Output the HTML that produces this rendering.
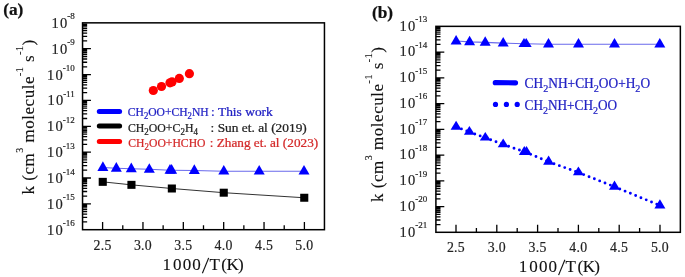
<!DOCTYPE html>
<html><head><meta charset="utf-8"><style>html,body{margin:0;padding:0;background:#fff;overflow:hidden}svg{display:block;will-change:transform}text{stroke-width:0.24px}text.t{stroke-width:0.12px}text.k{stroke-width:0.18px}</style></head><body>
<svg width="685" height="277" viewBox="0 0 685 277" font-family='"Liberation Serif", serif'>
<rect width="685" height="277" fill="#fff"/>
<rect x="82.55" y="22.85" width="241.89999999999998" height="206.85" fill="none" stroke="#000" stroke-width="1.5"/>
<path d="M82.55 40.92H87.15M82.55 36.37H87.15M82.55 33.14H87.15M82.55 30.63H87.15M82.55 28.59H87.15M82.55 26.86H87.15M82.55 25.36H87.15M82.55 24.03H87.15M82.55 66.78H87.15M82.55 62.23H87.15M82.55 59.00H87.15M82.55 56.49H87.15M82.55 54.44H87.15M82.55 52.71H87.15M82.55 51.21H87.15M82.55 49.89H87.15M82.55 48.71H90.95M82.55 92.64H87.15M82.55 88.08H87.15M82.55 84.85H87.15M82.55 82.35H87.15M82.55 80.30H87.15M82.55 78.57H87.15M82.55 77.07H87.15M82.55 75.75H87.15M82.55 74.56H90.95M82.55 118.49H87.15M82.55 113.94H87.15M82.55 110.71H87.15M82.55 108.20H87.15M82.55 106.15H87.15M82.55 104.42H87.15M82.55 102.92H87.15M82.55 101.60H87.15M82.55 100.42H90.95M82.55 144.35H87.15M82.55 139.79H87.15M82.55 136.56H87.15M82.55 134.06H87.15M82.55 132.01H87.15M82.55 130.28H87.15M82.55 128.78H87.15M82.55 127.46H87.15M82.55 126.28H90.95M82.55 170.20H87.15M82.55 165.65H87.15M82.55 162.42H87.15M82.55 159.91H87.15M82.55 157.87H87.15M82.55 156.14H87.15M82.55 154.64H87.15M82.55 153.31H87.15M82.55 152.13H90.95M82.55 196.06H87.15M82.55 191.51H87.15M82.55 188.28H87.15M82.55 185.77H87.15M82.55 183.72H87.15M82.55 181.99H87.15M82.55 180.49H87.15M82.55 179.17H87.15M82.55 177.99H90.95M82.55 221.92H87.15M82.55 217.36H87.15M82.55 214.13H87.15M82.55 211.63H87.15M82.55 209.58H87.15M82.55 207.85H87.15M82.55 206.35H87.15M82.55 205.03H87.15M82.55 203.84H90.95" stroke="#000" stroke-width="1.3" fill="none"/>
<path d="M102.60 229.70V222.10M122.78 229.70V225.30M142.96 229.70V222.10M163.14 229.70V225.30M183.32 229.70V222.10M203.50 229.70V225.30M223.68 229.70V222.10M243.86 229.70V225.30M264.04 229.70V222.10M284.22 229.70V225.30M304.40 229.70V222.10" stroke="#000" stroke-width="1.3" fill="none"/>
<text x="74.8" y="27.85" text-anchor="end" font-size="14.5" fill="#222" stroke="#222" class="k">1<tspan dx="1.2">0</tspan><tspan font-size="9" dy="-8.4">-8</tspan></text>
<text x="74.8" y="53.71" text-anchor="end" font-size="14.5" fill="#222" stroke="#222" class="k">1<tspan dx="1.2">0</tspan><tspan font-size="9" dy="-8.4">-9</tspan></text>
<text x="74.8" y="79.56" text-anchor="end" font-size="14.5" fill="#222" stroke="#222" class="k">1<tspan dx="1.2">0</tspan><tspan font-size="9" dy="-8.4">-10</tspan></text>
<text x="74.8" y="105.42" text-anchor="end" font-size="14.5" fill="#222" stroke="#222" class="k">1<tspan dx="1.2">0</tspan><tspan font-size="9" dy="-8.4">-11</tspan></text>
<text x="74.8" y="131.28" text-anchor="end" font-size="14.5" fill="#222" stroke="#222" class="k">1<tspan dx="1.2">0</tspan><tspan font-size="9" dy="-8.4">-12</tspan></text>
<text x="74.8" y="157.13" text-anchor="end" font-size="14.5" fill="#222" stroke="#222" class="k">1<tspan dx="1.2">0</tspan><tspan font-size="9" dy="-8.4">-13</tspan></text>
<text x="74.8" y="182.99" text-anchor="end" font-size="14.5" fill="#222" stroke="#222" class="k">1<tspan dx="1.2">0</tspan><tspan font-size="9" dy="-8.4">-14</tspan></text>
<text x="74.8" y="208.84" text-anchor="end" font-size="14.5" fill="#222" stroke="#222" class="k">1<tspan dx="1.2">0</tspan><tspan font-size="9" dy="-8.4">-15</tspan></text>
<text x="74.8" y="234.70" text-anchor="end" font-size="14.5" fill="#222" stroke="#222" class="k">1<tspan dx="1.2">0</tspan><tspan font-size="9" dy="-8.4">-16</tspan></text>
<text x="102.60" y="249.6" text-anchor="middle" font-size="13.8" fill="#222" stroke="#222" class="k" letter-spacing="0.3">2.5</text>
<text x="142.96" y="249.6" text-anchor="middle" font-size="13.8" fill="#222" stroke="#222" class="k" letter-spacing="0.3">3.0</text>
<text x="183.32" y="249.6" text-anchor="middle" font-size="13.8" fill="#222" stroke="#222" class="k" letter-spacing="0.3">3.5</text>
<text x="223.68" y="249.6" text-anchor="middle" font-size="13.8" fill="#222" stroke="#222" class="k" letter-spacing="0.3">4.0</text>
<text x="264.04" y="249.6" text-anchor="middle" font-size="13.8" fill="#222" stroke="#222" class="k" letter-spacing="0.3">4.5</text>
<text x="304.40" y="249.6" text-anchor="middle" font-size="13.8" fill="#222" stroke="#222" class="k" letter-spacing="0.3">5.0</text>
<text x="162.50 173.00 182.75 192.20 209.40 221.25 226.60 238.00" y="270.1" font-size="17" fill="#111" stroke="#111" class="t">1000T(K)</text>
<line x1="202.40" y1="273.30" x2="208.70" y2="257.90" stroke="#111" stroke-width="1.15"/>
<text transform="translate(33.6,194.4) rotate(-90)" x="0" y="0" font-size="17" fill="#111" stroke="#111" textLength="154.60000000000002" lengthAdjust="spacing" class="t">k (cm<tspan font-size="10" dy="-10.3">3</tspan><tspan dy="10.3"> molecule</tspan><tspan font-size="10" dy="-10.3">-1</tspan><tspan dy="10.3"> s</tspan><tspan font-size="10" dy="-10.3">-1</tspan><tspan dy="10.3">)</tspan></text>
<text x="3.2" y="14.8" font-size="17.3" font-weight="bold" fill="#111" stroke="#111">(a)</text>
<rect x="435.9" y="26.35" width="244.45000000000005" height="205.95000000000002" fill="none" stroke="#000" stroke-width="1.5"/>
<path d="M435.90 44.34H440.50M435.90 39.81H440.50M435.90 36.59H440.50M435.90 34.10H440.50M435.90 32.06H440.50M435.90 30.34H440.50M435.90 28.84H440.50M435.90 27.53H440.50M435.90 70.09H440.50M435.90 65.55H440.50M435.90 62.34H440.50M435.90 59.84H440.50M435.90 57.80H440.50M435.90 56.08H440.50M435.90 54.59H440.50M435.90 53.27H440.50M435.90 52.09H444.30M435.90 95.83H440.50M435.90 91.30H440.50M435.90 88.08H440.50M435.90 85.59H440.50M435.90 83.55H440.50M435.90 81.83H440.50M435.90 80.33H440.50M435.90 79.02H440.50M435.90 77.84H444.30M435.90 121.58H440.50M435.90 117.04H440.50M435.90 113.83H440.50M435.90 111.33H440.50M435.90 109.29H440.50M435.90 107.57H440.50M435.90 106.08H440.50M435.90 104.76H440.50M435.90 103.58H444.30M435.90 147.32H440.50M435.90 142.79H440.50M435.90 139.57H440.50M435.90 137.07H440.50M435.90 135.04H440.50M435.90 133.31H440.50M435.90 131.82H440.50M435.90 130.50H440.50M435.90 129.33H444.30M435.90 173.06H440.50M435.90 168.53H440.50M435.90 165.31H440.50M435.90 162.82H440.50M435.90 160.78H440.50M435.90 159.06H440.50M435.90 157.56H440.50M435.90 156.25H440.50M435.90 155.07H444.30M435.90 198.81H440.50M435.90 194.27H440.50M435.90 191.06H440.50M435.90 188.56H440.50M435.90 186.52H440.50M435.90 184.80H440.50M435.90 183.31H440.50M435.90 181.99H440.50M435.90 180.81H444.30M435.90 224.55H440.50M435.90 220.02H440.50M435.90 216.80H440.50M435.90 214.31H440.50M435.90 212.27H440.50M435.90 210.54H440.50M435.90 209.05H440.50M435.90 207.73H440.50M435.90 206.56H444.30" stroke="#000" stroke-width="1.3" fill="none"/>
<path d="M456.00 232.30V224.70M476.40 232.30V227.90M496.80 232.30V224.70M517.20 232.30V227.90M537.60 232.30V224.70M558.00 232.30V227.90M578.40 232.30V224.70M598.80 232.30V227.90M619.20 232.30V224.70M639.60 232.30V227.90M660.00 232.30V224.70" stroke="#000" stroke-width="1.3" fill="none"/>
<text x="427.3" y="30.70" text-anchor="end" font-size="14.5" fill="#222" stroke="#222" class="k">1<tspan dx="1.2">0</tspan><tspan font-size="9" dy="-8.6">-13</tspan></text>
<text x="427.3" y="56.44" text-anchor="end" font-size="14.5" fill="#222" stroke="#222" class="k">1<tspan dx="1.2">0</tspan><tspan font-size="9" dy="-8.6">-14</tspan></text>
<text x="427.3" y="82.19" text-anchor="end" font-size="14.5" fill="#222" stroke="#222" class="k">1<tspan dx="1.2">0</tspan><tspan font-size="9" dy="-8.6">-15</tspan></text>
<text x="427.3" y="107.93" text-anchor="end" font-size="14.5" fill="#222" stroke="#222" class="k">1<tspan dx="1.2">0</tspan><tspan font-size="9" dy="-8.6">-16</tspan></text>
<text x="427.3" y="133.68" text-anchor="end" font-size="14.5" fill="#222" stroke="#222" class="k">1<tspan dx="1.2">0</tspan><tspan font-size="9" dy="-8.6">-17</tspan></text>
<text x="427.3" y="159.42" text-anchor="end" font-size="14.5" fill="#222" stroke="#222" class="k">1<tspan dx="1.2">0</tspan><tspan font-size="9" dy="-8.6">-18</tspan></text>
<text x="427.3" y="185.16" text-anchor="end" font-size="14.5" fill="#222" stroke="#222" class="k">1<tspan dx="1.2">0</tspan><tspan font-size="9" dy="-8.6">-19</tspan></text>
<text x="427.3" y="210.91" text-anchor="end" font-size="14.5" fill="#222" stroke="#222" class="k">1<tspan dx="1.2">0</tspan><tspan font-size="9" dy="-8.6">-20</tspan></text>
<text x="427.3" y="236.65" text-anchor="end" font-size="14.5" fill="#222" stroke="#222" class="k">1<tspan dx="1.2">0</tspan><tspan font-size="9" dy="-8.6">-21</tspan></text>
<text x="456.00" y="252.0" text-anchor="middle" font-size="13.8" fill="#222" stroke="#222" class="k" letter-spacing="0.3">2.5</text>
<text x="496.80" y="252.0" text-anchor="middle" font-size="13.8" fill="#222" stroke="#222" class="k" letter-spacing="0.3">3.0</text>
<text x="537.60" y="252.0" text-anchor="middle" font-size="13.8" fill="#222" stroke="#222" class="k" letter-spacing="0.3">3.5</text>
<text x="578.40" y="252.0" text-anchor="middle" font-size="13.8" fill="#222" stroke="#222" class="k" letter-spacing="0.3">4.0</text>
<text x="619.20" y="252.0" text-anchor="middle" font-size="13.8" fill="#222" stroke="#222" class="k" letter-spacing="0.3">4.5</text>
<text x="660.00" y="252.0" text-anchor="middle" font-size="13.8" fill="#222" stroke="#222" class="k" letter-spacing="0.3">5.0</text>
<text x="518.70 529.20 538.95 548.40 565.60 577.45 582.80 594.20" y="271.9" font-size="17" fill="#111" stroke="#111" class="t">1000T(K)</text>
<line x1="558.60" y1="275.10" x2="564.90" y2="259.70" stroke="#111" stroke-width="1.15"/>
<text transform="translate(382.6,202.0) rotate(-90)" x="0" y="0" font-size="17" fill="#111" stroke="#111" textLength="154.9" lengthAdjust="spacing" class="t">k (cm<tspan font-size="10" dy="-10.3">3</tspan><tspan dy="10.3"> molecule</tspan><tspan font-size="10" dy="-10.3">-1</tspan><tspan dy="10.3"> s</tspan><tspan font-size="10" dy="-10.3">-1</tspan><tspan dy="10.3">)</tspan></text>
<text x="372.0" y="18.0" font-size="17.3" font-weight="bold" fill="#111" stroke="#111">(b)</text>
<polyline points="102.90,167.51 116.30,168.24 131.30,168.74 149.30,169.32 170.00,170.31 171.60,170.31 194.30,170.44 223.80,171.18 259.20,171.18 304.00,171.18" fill="none" stroke="#6a6aec" stroke-width="1.1"/>
<polyline points="102.75,181.85 131.45,184.85 171.85,188.5 223.75,192.7 304.25,197.75" fill="none" stroke="#333" stroke-width="1.0"/>
<path d="M102.90 161.30L108.40 171.00L97.40 171.00Z" fill="#0000ff"/>
<path d="M116.30 161.90L121.80 171.80L110.80 171.80Z" fill="#0000ff"/>
<path d="M131.30 162.60L136.80 172.20L125.80 172.20Z" fill="#0000ff"/>
<path d="M149.30 163.30L154.80 172.70L143.80 172.70Z" fill="#0000ff"/>
<path d="M170.00 164.10L175.50 173.80L164.50 173.80Z" fill="#0000ff"/>
<path d="M171.60 164.10L177.10 173.80L166.10 173.80Z" fill="#0000ff"/>
<path d="M194.30 164.30L199.80 173.90L188.80 173.90Z" fill="#0000ff"/>
<path d="M223.80 165.10L229.30 174.60L218.30 174.60Z" fill="#0000ff"/>
<path d="M259.20 165.10L264.70 174.60L253.70 174.60Z" fill="#0000ff"/>
<path d="M304.00 165.10L309.50 174.60L298.50 174.60Z" fill="#0000ff"/>
<rect x="98.70" y="177.85" width="8.1" height="8.0" fill="#000"/>
<rect x="127.40" y="180.85" width="8.1" height="8.0" fill="#000"/>
<rect x="167.80" y="184.50" width="8.1" height="8.0" fill="#000"/>
<rect x="219.70" y="188.70" width="8.1" height="8.0" fill="#000"/>
<rect x="300.20" y="193.75" width="8.1" height="8.0" fill="#000"/>
<circle cx="153.3" cy="90.5" r="4.6" fill="#ff0000"/>
<circle cx="161.5" cy="86.5" r="4.6" fill="#ff0000"/>
<circle cx="170.0" cy="82.8" r="4.6" fill="#ff0000"/>
<circle cx="172.0" cy="81.9" r="4.6" fill="#ff0000"/>
<circle cx="179.3" cy="78.4" r="4.6" fill="#ff0000"/>
<circle cx="189.4" cy="73.7" r="4.6" fill="#ff0000"/>
<g stroke-width="5" stroke-linecap="round">
<line x1="99.3" y1="111.5" x2="119.6" y2="111.5" stroke="#0000ff"/>
<line x1="99.3" y1="125.9" x2="119.6" y2="125.9" stroke="#000"/>
<line x1="99.3" y1="141.5" x2="119.6" y2="141.5" stroke="#ff0000"/>
</g>
<g font-size="12.3">
<text x="127.8" y="115.9" fill="#2222c4" stroke="#2222c4" textLength="80.9" lengthAdjust="spacingAndGlyphs">CH<tspan font-size="9.3" dy="3.2">2</tspan><tspan dy="-3.2">OO+CH</tspan><tspan font-size="9.3" dy="3.2">2</tspan><tspan dy="-3.2">NH</tspan></text>
<text x="211.1" y="115.9" fill="#2222c4" stroke="#2222c4" textLength="61.7" lengthAdjust="spacingAndGlyphs">: This work</text>
<text x="127.9" y="131.5" fill="#222" stroke="#222" textLength="70.0" lengthAdjust="spacingAndGlyphs">CH<tspan font-size="9.3" dy="3.2">2</tspan><tspan dy="-3.2">OO+C</tspan><tspan font-size="9.3" dy="3.2">2</tspan><tspan dy="-3.2">H</tspan><tspan font-size="9.3" dy="3.2">4</tspan></text>
<text x="210.6" y="131.5" fill="#222" stroke="#222" textLength="96.2" lengthAdjust="spacingAndGlyphs">: Sun et. al (2019)</text>
<text x="128.3" y="146.7" fill="#d42a2a" stroke="#d42a2a" textLength="77.2" lengthAdjust="spacingAndGlyphs">CH<tspan font-size="9.3" dy="3.2">2</tspan><tspan dy="-3.2">OO+HCHO</tspan></text>
<text x="209.7" y="146.7" fill="#d42a2a" stroke="#d42a2a" textLength="108.5" lengthAdjust="spacingAndGlyphs">: Zhang et. al (2023)</text>
</g>
<polyline points="456.10,41.05 469.60,41.84 485.20,42.34 503.20,43.12 524.00,43.70 526.20,43.70 548.50,44.18 578.50,44.18 614.50,44.18 659.80,44.18" fill="none" stroke="#6a6aec" stroke-width="1.1"/>
<path d="M456.10 126.85L469.40 131.98M469.40 131.98L485.30 137.75M485.30 137.75L503.20 144.45M503.20 144.45L525.40 152.15M525.40 152.15L548.60 161.76M548.60 161.76L578.40 172.52M578.40 172.52L614.50 186.76M614.50 186.76L659.90 205.52" fill="none" stroke="#0000ff" stroke-width="2.9" stroke-linecap="round" stroke-dasharray="0 5.72"/>
<path d="M456.10 35.10L461.60 44.40L450.60 44.40Z" fill="#0000ff"/>
<path d="M469.60 35.70L475.10 45.30L464.10 45.30Z" fill="#0000ff"/>
<path d="M485.20 36.20L490.70 45.80L479.70 45.80Z" fill="#0000ff"/>
<path d="M503.20 37.10L508.70 46.50L497.70 46.50Z" fill="#0000ff"/>
<path d="M524.00 38.00L529.50 46.90L518.50 46.90Z" fill="#0000ff"/>
<path d="M526.20 38.00L531.70 46.90L520.70 46.90Z" fill="#0000ff"/>
<path d="M548.50 38.10L554.00 47.60L543.00 47.60Z" fill="#0000ff"/>
<path d="M578.50 38.10L584.00 47.60L573.00 47.60Z" fill="#0000ff"/>
<path d="M614.50 38.10L620.00 47.60L609.00 47.60Z" fill="#0000ff"/>
<path d="M659.80 38.10L665.30 47.60L654.30 47.60Z" fill="#0000ff"/>
<path d="M456.10 120.80L461.60 129.70L450.60 129.70Z" fill="#0000ff"/>
<path d="M469.40 126.00L474.90 134.80L463.90 134.80Z" fill="#0000ff"/>
<path d="M485.30 131.90L490.80 140.50L479.80 140.50Z" fill="#0000ff"/>
<path d="M503.20 138.40L508.70 147.30L497.70 147.30Z" fill="#0000ff"/>
<path d="M524.30 146.10L529.80 155.00L518.80 155.00Z" fill="#0000ff"/>
<path d="M526.50 146.10L532.00 155.00L521.00 155.00Z" fill="#0000ff"/>
<path d="M548.60 155.50L554.10 164.70L543.10 164.70Z" fill="#0000ff"/>
<path d="M578.40 166.60L583.90 175.30L572.90 175.30Z" fill="#0000ff"/>
<path d="M614.50 180.50L620.00 189.70L609.00 189.70Z" fill="#0000ff"/>
<path d="M659.90 199.20L665.40 208.50L654.40 208.50Z" fill="#0000ff"/>
<line x1="495.3" y1="82.7" x2="515.5" y2="82.8" stroke="#0000ff" stroke-width="5.2" stroke-linecap="round"/>
<circle cx="495.5" cy="104.4" r="2.6" fill="#0000ff"/>
<circle cx="506.4" cy="104.4" r="2.6" fill="#0000ff"/>
<circle cx="517.2" cy="104.4" r="2.6" fill="#0000ff"/>
<g font-size="14">
<text x="524.6" y="87.9" fill="#2222c4" stroke="#2222c4" textLength="125.5" lengthAdjust="spacingAndGlyphs">CH<tspan font-size="10.6" dy="3.7">2</tspan><tspan dy="-3.7">NH+CH</tspan><tspan font-size="10.6" dy="3.7">2</tspan><tspan dy="-3.7">OO+H</tspan><tspan font-size="10.6" dy="3.7">2</tspan><tspan dy="-3.7">O</tspan></text>
<text x="524.6" y="110.0" fill="#2222c4" stroke="#2222c4" textLength="92.5" lengthAdjust="spacingAndGlyphs">CH<tspan font-size="10.6" dy="3.7">2</tspan><tspan dy="-3.7">NH+CH</tspan><tspan font-size="10.6" dy="3.7">2</tspan><tspan dy="-3.7">OO</tspan></text>
</g>
</svg>
</body></html>
